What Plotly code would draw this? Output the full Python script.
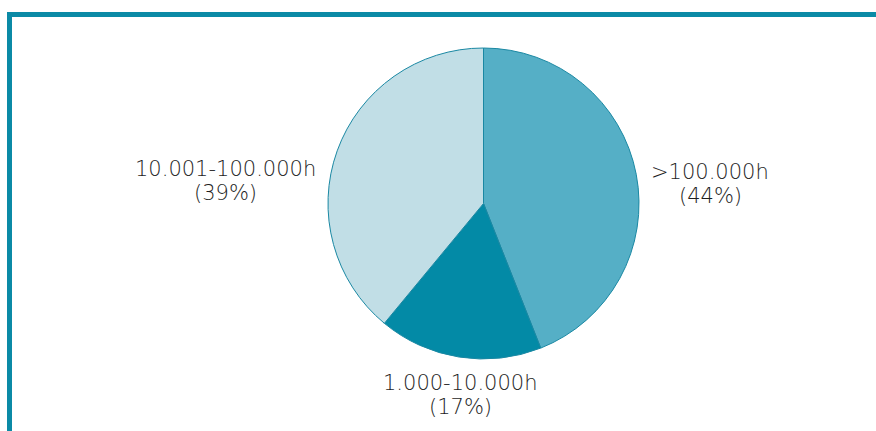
import plotly.graph_objects as go

# Share of operating hours per class
labels = [">100.000h", "1.000-10.000h", "10.001-100.000h"]
shares = [44, 17, 39]
colors = ["#55afc6", "#038aa6", "#c1dee6"]

# label anchor points (pixels from the top-left of the canvas, first line)
label_x = [710, 461, 225]
label_y = [172, 383, 169]
line_gap = 24

W, H = 876, 431

fig = go.Figure(
    go.Pie(
        labels=labels,
        values=shares,
        sort=False,
        direction="clockwise",
        rotation=0,
        marker=dict(colors=colors, line=dict(color="#1a88a3", width=1)),
        textinfo="none",
        hoverinfo="label+percent",
        domain=dict(x=[328 / W, 639 / W], y=[(H - 359) / H, (H - 48) / H]),
        showlegend=False,
    )
)

label_font = dict(family="DejaVu Sans, Liberation Sans, Arial, sans-serif", size=21,
                  color="#1e1e1e", weight=200)
for lab, val, lx, ly in zip(labels, shares, label_x, label_y):
    for k, line in enumerate([lab, f"({val}%)"]):
        fig.add_annotation(
            x=lx / W, y=1 - (ly + k * line_gap) / H, xref="paper", yref="paper",
            text=line, showarrow=False, xanchor="center", yanchor="middle",
            font=label_font,
        )

# teal frame along the top and left edges
frame = "#0b8aa6"
fig.add_shape(type="line", xref="paper", yref="paper",
              x0=7 / W, x1=1, y0=1 - 14.5 / H, y1=1 - 14.5 / H,
              line=dict(color=frame, width=5))
fig.add_shape(type="line", xref="paper", yref="paper",
              x0=9.5 / W, x1=9.5 / W, y0=1 - 12 / H, y1=0,
              line=dict(color=frame, width=5))

fig.update_layout(
    width=W, height=H,
    margin=dict(l=0, r=0, t=0, b=0),
    paper_bgcolor="white",
    plot_bgcolor="white",
)

fig.write_html("out.html")
